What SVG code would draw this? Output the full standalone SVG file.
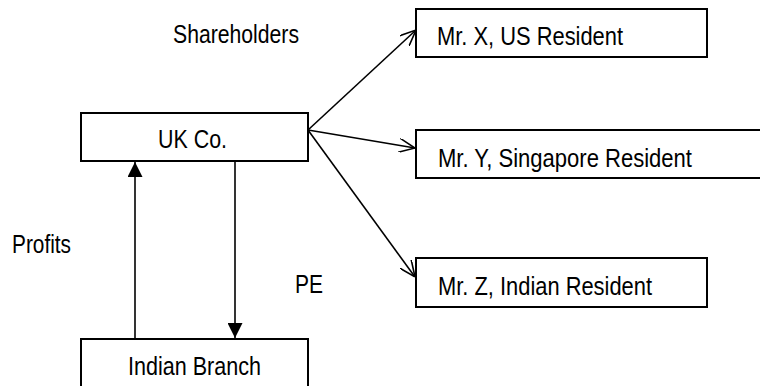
<svg xmlns="http://www.w3.org/2000/svg" width="760" height="386" viewBox="0 0 760 386">
  <style>
    .box { fill: #ffffff; stroke: #000000; stroke-width: 2; }
    .lbl { font-family: "Liberation Sans", Arial, sans-serif; font-size: 26px; fill: #000000; }
    .edge { fill: none; stroke: #000000; stroke-width: 1.6; }
  </style>
  <defs>
    <marker id="open" viewBox="0 0 16 14" refX="16" refY="7" markerWidth="16" markerHeight="14" markerUnits="userSpaceOnUse" orient="auto">
      <path d="M0,0 L16,7 L0,14" fill="none" stroke="#000000" stroke-width="1.6"/>
    </marker>
    <marker id="solid" viewBox="0 0 15 15" refX="15" refY="7.5" markerWidth="15" markerHeight="15" markerUnits="userSpaceOnUse" orient="auto">
      <path d="M0,0 L15,7.5 L0,15 Z" fill="#000000"/>
    </marker>
  </defs>
  <rect width="760" height="386" fill="#ffffff"/>

  <!-- free labels -->
  <text class="lbl" x="173" y="43" textLength="126" lengthAdjust="spacingAndGlyphs">Shareholders</text>
  <text class="lbl" x="12" y="253" textLength="59" lengthAdjust="spacingAndGlyphs">Profits</text>
  <text class="lbl" x="295" y="293" textLength="28" lengthAdjust="spacingAndGlyphs">PE</text>

  <g id="connectors">
    <line class="edge" x1="308" y1="130" x2="416" y2="30" marker-end="url(#open)"/>
    <line class="edge" x1="308" y1="130" x2="415" y2="148" marker-end="url(#open)"/>
    <line class="edge" x1="308" y1="130" x2="415" y2="277" marker-end="url(#open)"/>
    <line class="edge" x1="135" y1="338" x2="135" y2="162" marker-end="url(#solid)"/>
    <line class="edge" x1="235" y1="161" x2="235" y2="338" marker-end="url(#solid)"/>
  </g>

  <g id="uk-co">
    <rect class="box" x="81" y="113" width="227" height="48"/>
    <text class="lbl" x="158" y="148" textLength="69" lengthAdjust="spacingAndGlyphs">UK Co.</text>
  </g>

  <g id="indian-branch">
    <rect class="box" x="81" y="339" width="227" height="60"/>
    <text class="lbl" x="128" y="375" textLength="133" lengthAdjust="spacingAndGlyphs">Indian Branch</text>
  </g>

  <g id="mr-x">
    <rect class="box" x="416" y="9" width="291" height="48"/>
    <text class="lbl" x="437" y="45" textLength="186" lengthAdjust="spacingAndGlyphs">Mr. X, US Resident</text>
  </g>

  <g id="mr-y">
    <rect class="box" x="416" y="130" width="360" height="48"/>
    <text class="lbl" x="438" y="167" textLength="254" lengthAdjust="spacingAndGlyphs">Mr. Y, Singapore Resident</text>
  </g>

  <g id="mr-z">
    <rect class="box" x="416" y="258" width="291" height="49"/>
    <text class="lbl" x="438" y="295" textLength="214" lengthAdjust="spacingAndGlyphs">Mr. Z, Indian Resident</text>
  </g>
</svg>
